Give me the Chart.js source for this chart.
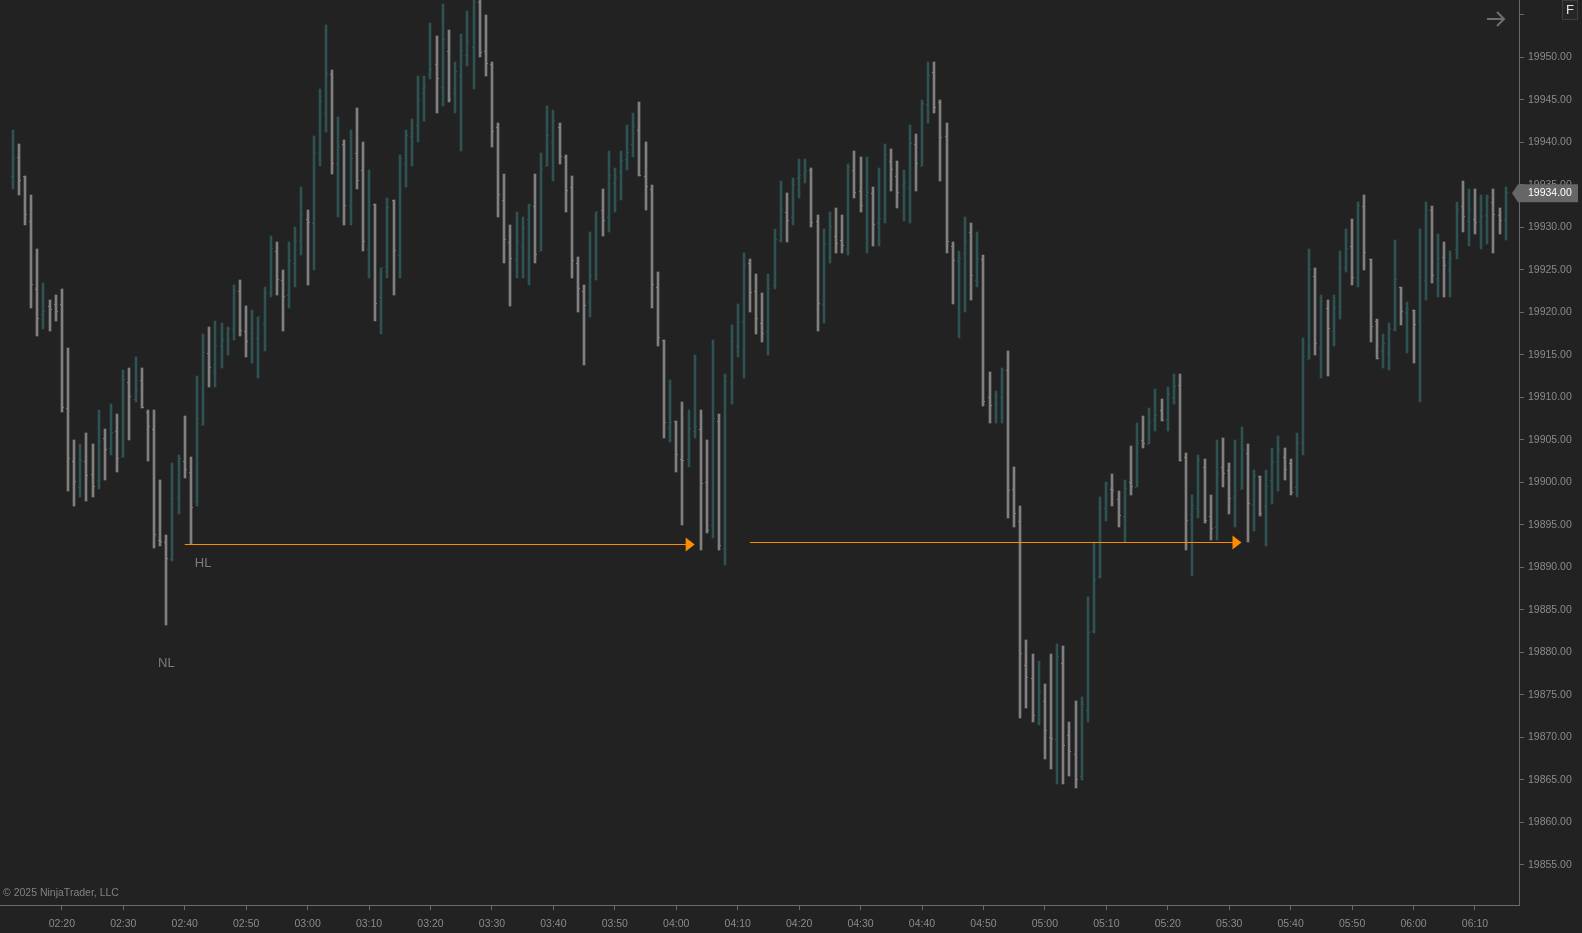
<!DOCTYPE html>
<html><head><meta charset="utf-8">
<script src="https://cdn.jsdelivr.net/npm/chart.js@4.4.1/dist/chart.umd.min.js"></script>
<style>
html,body{margin:0;padding:0;background:#222222;overflow:hidden;}
#wrap{position:relative;width:1582px;height:933px;}
canvas{display:block;}
</style></head><body>
<div id="wrap"><canvas id="c" width="1582" height="933"></canvas></div>
<script>
// ---- data (1-minute OHLC bars) ----
const startTime = '02:12';
const opens = [19936,19938.25,19936,19930.75,19922.75,19919.75,19920.75,19921,19921,19908.75,
19902.5,19899.5,19902.5,19901,19900.25,19905.25,19904,19906,19903,19911.75,
19909.75,19912,19908.25,19906.25,19893.25,19893,19891,19898.25,19902.5,19901.25,
19897.75,19906.75,19915.25,19913,19916,19916.75,19918,19922.5,19917.75,19917,
19917,19918.75,19922.25,19927.25,19923.75,19922,19925.75,19928.5,19931,19930.5,
19938.75,19943.5,19948,19937.5,19939.75,19932.5,19938.75,19936.75,19927.5,19932.75,
19921.75,19925.5,19933.25,19926.75,19937.5,19940.75,19942,19945.75,19948,19949.25,
19946.5,19950.75,19945.75,19947.75,19950.25,19951.25,19956.5,19950.75,19949.25,19941.75,
19933.25,19928.25,19926.25,19927.75,19931,19932.5,19927.25,19937.25,19940,19941.75,
19938.25,19934.75,19925.75,19922.5,19921.25,19924.5,19932,19931.25,19935.25,19936.5,
19938,19939.75,19941.5,19936,19934.5,19923,19916.75,19906.5,19907.25,19902.75,
19902.75,19906,19906.25,19900,19895,19907.25,19892.25,19911.75,19916,19919,
19925.75,19922.5,19918.75,19917.75,19923.25,19928.5,19931.75,19931.25,19935.75,19936.25,
19936.75,19930.75,19921,19928,19929,19928.5,19927.5,19936.75,19934.25,19933.75,
19934,19930.5,19931,19937.75,19936,19935,19934.75,19939.75,19937.25,19944.5,
19948.25,19944.75,19940.75,19927.75,19926,19927,19929.5,19923.75,19926.25,19910,
19909.25,19910,19913.25,19899.25,19895.5,19878.5,19877,19871.75,19874.25,19870,
19869.75,19878.75,19870.25,19868,19865.5,19873.25,19882.5,19889,19897,19899.25,
19898,19896,19900,19899.5,19905,19904.5,19907.5,19908.5,19907.5,19910,
19911.5,19903,19896.25,19897,19901.75,19896,19894.75,19901.75,19901.5,19898.25,
19899.25,19903.5,19897.5,19900.75,19897.25,19900.25,19902.5,19903,19902.25,19899.5,
19904.75,19914.5,19924.25,19915.75,19920.5,19917.75,19920.75,19925.25,19927.75,19924,
19932.5,19926.25,19919,19915.5,19915.25,19918,19923,19920,19920.25,19919,
19923.75,19932,19924,19926.5,19925,19927.5,19932.5,19930.75,19931,19930.75,
19931.5,19933,19931.5,19931];
const highs = [19941.5,19939.75,19936,19933.75,19927.5,19923.5,19921.5,19922,19922.75,19915.75,
19905,19904.5,19905.75,19904.5,19908.5,19906.25,19909.25,19908,19913.25,19913.5,
19914.75,19913.5,19908.5,19908.5,19900.25,19893.75,19902.25,19903.25,19907.75,19903,
19912.5,19917.5,19918.25,19919,19918.75,19918.25,19923.25,19923.75,19920.75,19920.25,
19919.5,19923,19929,19928.25,19925,19928.25,19930,19934.75,19932,19940.75,
19946.25,19953.75,19948.5,19943,19940.25,19941.5,19944,19940,19936.75,19932.75,
19925.25,19933.5,19933.25,19938.5,19941.5,19942.75,19947.75,19947.75,19954,19952.5,
19956.25,19953.25,19949.5,19952.75,19955.5,19958,19958.5,19955,19949.5,19942.25,
19936.25,19930.25,19931.75,19931.25,19932.75,19936.25,19938.75,19944.25,19943.75,19942.25,
19938.5,19936,19926.5,19923.25,19929.5,19931.75,19934.5,19939,19937,19939,
19942,19943.5,19944.75,19940,19935,19924.75,19916.75,19912,19907.25,19909.5,
19908.5,19915,19908.5,19905,19916.75,19908,19912.75,19918.5,19921,19927,
19926.25,19924.5,19922.25,19924.5,19929.75,19935.5,19934,19935.75,19938,19938,
19937,19931.5,19929.75,19931.75,19932.25,19931.5,19937.5,19939,19938.25,19938.25,
19934.75,19937,19939.75,19939.25,19937.75,19936.75,19942,19941,19945,19949.5,
19949.5,19945,19942.25,19928.25,19927.25,19931.25,19930.5,19929.5,19926.75,19913,
19910.75,19913.5,19915.5,19901.75,19897.25,19881.5,19879.75,19879,19876.25,19879.75,
19881,19880.75,19871.75,19874.25,19874.75,19886.5,19893,19898.25,19900,19901,
19899,19900.25,19904.25,19907,19907.75,19908.75,19911,19909.75,19911.25,19912.75,
19912.75,19903.5,19898.5,19903.25,19902.75,19898.5,19905,19905.25,19902.25,19905,
19906.5,19904.5,19901.5,19900.75,19901.5,19904,19905.5,19904,19902.75,19905.75,
19917,19927.5,19925.25,19922,19921.5,19922,19927.25,19929.75,19931,19933,
19933.75,19926.25,19919.25,19917.5,19918.75,19928.5,19923,19921.25,19920.25,19929.75,
19933,19932.5,19929.25,19928.25,19927.25,19933,19935.5,19934.5,19934.5,19933.75,
19933.75,19934.5,19932.25,19934.75];
const lows = [19934.5,19933.75,19930.25,19920.5,19917.25,19918,19917.75,19919,19908.25,19899,
19897.25,19898.25,19897.75,19898.25,19899.25,19900.25,19903.25,19901.25,19903,19905,
19909.5,19908.75,19902.5,19892.25,19892.5,19883.25,19890.75,19896.25,19900.5,19892.75,
19897.25,19906.75,19911.25,19911.25,19913.5,19915,19916.75,19917.25,19914.75,19914,
19912.25,19915.5,19921.75,19922,19917.75,19920.5,19923,19926.75,19923.25,19925,
19937.25,19941.25,19936.25,19931.25,19930.25,19930.25,19934.5,19927.25,19924,19919,
19917.5,19924,19922,19924,19934.75,19937.25,19940,19942.5,19947.5,19943.5,
19944.25,19944.75,19943.5,19939,19949,19946.25,19950,19947.75,19939.5,19931.25,
19925.75,19920.75,19924,19924,19923.25,19925.75,19927.25,19937.25,19935.5,19937.5,
19931.75,19924,19920,19913.75,19919.5,19923.75,19929,19929.5,19931.75,19933.25,
19936.75,19938.25,19936,19932,19920.5,19916,19905.25,19904.75,19901.25,19895,
19901.75,19905.25,19892,19894,19893.5,19892,19890.25,19909.25,19914.75,19912.25,
19920,19917.5,19916.5,19915,19922.75,19928.25,19928.25,19930.25,19933.5,19935.25,
19930,19917.75,19918.75,19925.75,19927,19927,19926.75,19933.5,19931.75,19927,
19927.75,19927.75,19930.5,19934.25,19932.25,19930.75,19930.5,19934.25,19937.25,19942.25,
19943.5,19935.5,19927,19921,19917,19920,19921.5,19923,19909,19907,
19907,19907,19895.75,19894.75,19872.25,19873.5,19871.75,19871.5,19867.5,19866.25,
19864.5,19864.5,19865.5,19864,19865,19871.75,19882.25,19888.75,19895.5,19897.25,
19894.75,19893,19898.5,19899.5,19904,19904.5,19906,19907.25,19906,19909.25,
19902.5,19892,19889,19895.75,19895.25,19893.25,19893.25,19899.5,19896.25,19894.75,
19899.25,19893,19894.25,19896,19892.5,19897.5,19899,19900.25,19898.5,19898.25,
19903.25,19914.5,19915,19912.25,19912.5,19916,19919.25,19924.75,19923.25,19923,
19925,19916.5,19914.5,19913.5,19913.25,19917.75,19918.5,19915.25,19914,19909.5,
19921.5,19923.5,19921.75,19921.75,19921.75,19926.25,19929.5,19927.75,19929.25,19927.5,
19928,19927,19929.25,19928.5];
const closes = [19938,19935.5,19931.5,19923.25,19919.25,19920,19920.25,19920,19908.75,19902.75,
19900,19902.5,19900.75,19899.5,19904.75,19903.75,19905.75,19902.75,19912,19910,
19910.75,19908.75,19906.5,19893.75,19893,19891,19898,19902.75,19901.5,19897,
19907.5,19915.25,19913.5,19916,19916.75,19918,19922.5,19917.75,19916.5,19917.5,
19919.5,19922.25,19927.5,19923.75,19921.75,19926,19928.25,19931.5,19930.5,19938.75,
19944.75,19948,19937.5,19939.5,19932.5,19938,19935.5,19928.25,19932.5,19921,
19925.25,19932.25,19927.25,19938,19940.75,19941,19945,19946.5,19948.5,19947.5,
19952,19945,19948.25,19950.75,19951.75,19956.5,19950.5,19949.25,19941.25,19933.75,
19928.5,19926.25,19928.25,19929.75,19932.5,19926.75,19936.75,19940.75,19942.5,19938.25,
19934.25,19926,19922.75,19920.75,19924.25,19931.75,19930.75,19936,19935.75,19937.75,
19938.75,19941.75,19936,19934.75,19923.25,19917,19907,19907,19903.25,19902.5,
19906.25,19906.5,19899.75,19894.25,19907.5,19892.5,19911.75,19916.5,19918.75,19925.5,
19922.25,19919.25,19917.5,19922.75,19928.5,19932,19930.75,19935,19936,19936.5,
19930.5,19921,19928,19930,19928,19927.75,19937,19934,19932.5,19934,
19930.25,19931,19938.5,19936.75,19934,19935.25,19939.75,19937.5,19944.5,19947.75,
19944,19940.5,19928.25,19926,19926.25,19928.25,19924.25,19926.25,19909.5,19909,
19910,19913.25,19899,19896.25,19879.75,19877,19872.5,19875.25,19870.75,19869.75,
19879.5,19869,19868.25,19865,19873.75,19882.25,19888.5,19897,19899.75,19899,
19896,19899.25,19899.5,19904.5,19904.5,19907,19907.75,19907.25,19910.25,19911.25,
19902.5,19895.5,19897.25,19902.5,19895.5,19894.5,19901,19901,19898,19899,
19903.75,19897.5,19900.75,19896.25,19899.5,19902.25,19903.75,19901.5,19898.75,19904.5,
19914.75,19925,19916.25,19921.25,19918,19920.5,19925.25,19927.5,19924,19932.5,
19927,19918.25,19914.5,19916.25,19918,19923.75,19920,19920.25,19918.5,19924,
19932,19924.25,19926.25,19925.5,19926.25,19932,19931.25,19932,19930.5,19931.25,
19933.5,19931.5,19930.75,19934];

const xTickLabels = ['02:20','02:30','02:40','02:50','03:00','03:10','03:20','03:30','03:40','03:50','04:00','04:10',
  '04:20','04:30','04:40','04:50','05:00','05:10','05:20','05:30','05:40','05:50','06:00','06:10'];
const yTickValues = [19855,19860,19865,19870,19875,19880,19885,19890,19895,19900,19905,19910,19915,19920,
  19925,19930,19935,19940,19945,19950,19955];
const lastPrice = 19934.00;
const arrowFrom = ['02:40','04:12'];
const arrowTo = ['04:03','05:32'];
const arrowPrice = [19892.75, 19893];
const noteText = ['HL','NL'];
const noteTime = ['02:43','02:37'];
const notePrice = [19890.5, 19878.75];
const copyright = '\u00a9 2025 NinjaTrader, LLC';

// ---- styling ----
const FONT = '"Liberation Sans", Arial, sans-serif';
const upColor = '#2f5252';
const downColor = '#808080';
const axisColor = '#6a6a6a';
const textColor = '#8a8a8a';
const orange = '#ff8c00';

function toMin(s){const p=s.split(':').map(Number);return p[0]*60+p[1];}
function fmtMin(v){const h=Math.floor(v/60),m=Math.round(v-h*60);return String(h).padStart(2,'0')+':'+String(m).padStart(2,'0');}

const t0 = toMin(startTime);
const times = highs.map((_,i)=>t0+i);
const barData = highs.map((h,i)=>({x:times[i], y:[lows[i], h]}));
const barColors = closes.map((c,i)=> c>opens[i] ? upColor : downColor);

const crispBars = {
  id:'crispBars',
  beforeDatasetsDraw(chart){
    const meta = chart.getDatasetMeta(0);
    meta.data.forEach(el=>{ el.x = Math.round(el.x); el.y = Math.round(el.y); el.base = Math.round(el.base); });
  }
};

const ohlcTicks = {
  id:'ohlcTicks',
  afterDatasetsDraw(chart){
    const {ctx, chartArea:a} = chart;
    const xs = chart.scales.x, ys = chart.scales.y;
    ctx.save();
    ctx.beginPath(); ctx.rect(a.left,a.top,a.right-a.left,a.bottom-a.top); ctx.clip();
    for(let i=0;i<opens.length;i++){
      const x = Math.round(xs.getPixelForValue(times[i]));
      ctx.fillStyle = barColors[i];
      const yo = Math.round(ys.getPixelForValue(opens[i]));
      const yc = Math.round(ys.getPixelForValue(closes[i]));
      ctx.fillRect(x-2, yo, 1, 1);
      ctx.fillRect(x+1, yc-1, 1, 1);
    }
    ctx.restore();
  }
};

const overlays = {
  id:'overlays',
  afterDraw(chart){
    const {ctx, chartArea:a} = chart;
    const xs = chart.scales.x, ys = chart.scales.y;
    ctx.save();
    // arrows
    for(let k=0;k<arrowFrom.length;k++){
      const x1 = xs.getPixelForValue(toMin(arrowFrom[k]));
      const x2 = xs.getPixelForValue(toMin(arrowTo[k]));
      const y = Math.round(ys.getPixelForValue(arrowPrice[k]))+0.5;
      ctx.strokeStyle = orange; ctx.lineWidth = 1;
      ctx.beginPath(); ctx.moveTo(x1,y); ctx.lineTo(x2-8,y); ctx.stroke();
      ctx.fillStyle = orange;
      ctx.beginPath(); ctx.moveTo(x2-9,y-7); ctx.lineTo(x2,y); ctx.lineTo(x2-9,y+7); ctx.closePath(); ctx.fill();
    }
    // notes
    ctx.fillStyle = '#7c7c7c';
    ctx.font = '13px '+FONT; ctx.textAlign='center'; ctx.textBaseline='middle';
    for(let k=0;k<noteText.length;k++){
      ctx.fillText(noteText[k], xs.getPixelForValue(toMin(noteTime[k])), ys.getPixelForValue(notePrice[k]));
    }
    // copyright
    ctx.fillStyle = '#828282'; ctx.font = '10.5px '+FONT; ctx.textAlign='left';
    ctx.fillText(copyright, 3, a.bottom-12);
    // last price marker
    const yp = ys.getPixelForValue(lastPrice);
    const bx = a.right-1;
    ctx.fillStyle = '#666666';
    ctx.beginPath();
    ctx.moveTo(bx-6, yp); ctx.lineTo(bx, yp-9); ctx.lineTo(bx+60, yp-9); ctx.lineTo(bx+60, yp+9); ctx.lineTo(bx, yp+9); ctx.closePath(); ctx.fill();
    ctx.fillStyle = '#ffffff'; ctx.font = '10.5px '+FONT; ctx.textAlign='left'; ctx.textBaseline='middle';
    ctx.fillText(lastPrice.toFixed(2), a.right+9, yp);
    // top right arrow glyph
    ctx.strokeStyle = '#6e6e6e'; ctx.lineWidth = 2; ctx.lineCap='butt';
    ctx.beginPath(); ctx.moveTo(a.right-32, 19); ctx.lineTo(a.right-15, 19); ctx.stroke();
    ctx.beginPath(); ctx.moveTo(a.right-22, 12); ctx.lineTo(a.right-15, 19); ctx.lineTo(a.right-22, 26); ctx.stroke();
    // F box
    ctx.fillStyle = '#262626'; ctx.fillRect(1562.5, 0.5, 15, 19);
    ctx.strokeStyle = '#3e3e3e'; ctx.lineWidth = 1; ctx.strokeRect(1562.5, 0.5, 15, 19);
    ctx.fillStyle = '#e6e6e6'; ctx.font = '13px '+FONT; ctx.textAlign='center'; ctx.textBaseline='middle';
    ctx.fillText('F', 1570, 10.5);
    ctx.restore();
  }
};

const pxPerMin = 6.144, firstBarPx = 12.7, plotRight = 1519;
const xMin = t0 - firstBarPx/pxPerMin;
const xMax = t0 + (plotRight-firstBarPx)/pxPerMin;
const yMin = 19950 - (905-57.3)/8.5;
const yMax = 19950 + 57.3/8.5;

function noPad(s){ s.paddingTop = 0; s.paddingBottom = 0; s.paddingLeft = 0; s.paddingRight = 0; }

new Chart(document.getElementById('c').getContext('2d'), {
  type:'bar',
  data:{datasets:[{data:barData, backgroundColor:barColors, borderWidth:0, barThickness:2, grouped:false}]},
  options:{
    responsive:false, animation:false, devicePixelRatio:1,
    layout:{padding:0},
    plugins:{legend:{display:false}, tooltip:{enabled:false}},
    scales:{
      x:{type:'linear', position:'bottom', min:xMin, max:xMax, offset:false,
        grid:{display:true, offset:false, drawOnChartArea:false, drawTicks:true, tickLength:5, color:axisColor},
        border:{display:true, color:axisColor},
        afterBuildTicks:s=>{ s.ticks = xTickLabels.map(l=>({value:toMin(l)})); },
        ticks:{callback:v=>fmtMin(v), color:textColor, font:{family:FONT, size:10.5}, padding:8, maxRotation:0, autoSkip:false},
        afterFit:s=>{ s.height = 28; noPad(s); }
      },
      y:{type:'linear', position:'right', min:yMin, max:yMax,
        grid:{display:true, offset:false, drawOnChartArea:false, drawTicks:true, tickLength:5, color:axisColor},
        border:{display:true, color:axisColor},
        afterBuildTicks:s=>{ s.ticks = yTickValues.map(v=>({value:v})); },
        ticks:{callback:v=> v>19952 ? '' : Number(v).toFixed(2), color:textColor, font:{family:FONT, size:10.5}, padding:4, autoSkip:false},
        afterFit:s=>{ s.width = 63; noPad(s); }
      }
    }
  },
  plugins:[crispBars, ohlcTicks, overlays]
});
</script>
</body></html>
